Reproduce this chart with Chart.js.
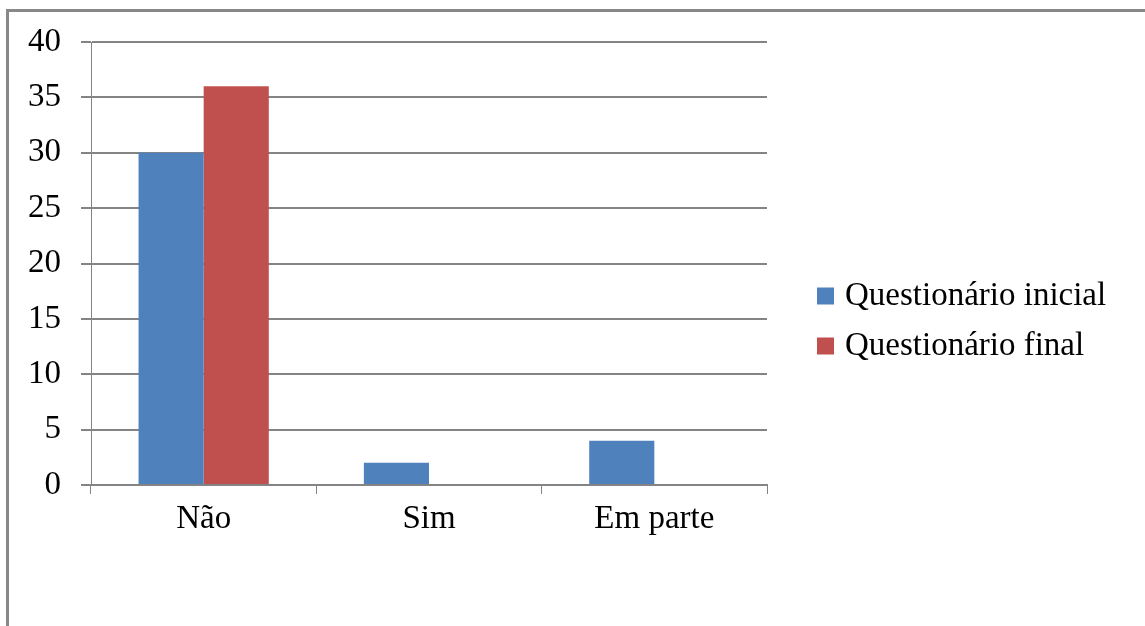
<!DOCTYPE html>
<html>
<head>
<meta charset="utf-8">
<script src="https://cdn.jsdelivr.net/npm/chart.js@4.4.1/dist/chart.umd.min.js"></script>
<style>
    html, body { margin: 0; padding: 0; background: #fff; }
    #wrap { position: relative; width: 1145px; height: 626px; }
</style>
</head>
<body>
<div id="wrap"><canvas id="myBar" width="1145" height="626"></canvas></div>
<script>
// data
const categories = ['Não', 'Sim', 'Em parte'];
const seriesNames = ['Questionário inicial', 'Questionário final'];
const inicialValues = [30, 2, 4];
const finalValues = [36, 0, 0];
const yTicks = [0, 5, 10, 15, 20, 25, 30, 35, 40];

const serif = "'Liberation Serif', 'Times New Roman', serif";
const gridGray = '#848484';

// frame round the chart (only left and top edge are visible)
const frame = {
    id: 'frame',
    beforeDraw(chart) {
        const ctx = chart.ctx;
        ctx.save();
        ctx.strokeStyle = '#888888';
        ctx.lineWidth = 3;
        ctx.beginPath();
        ctx.moveTo(7.5, chart.height);
        ctx.lineTo(7.5, 10.5);
        ctx.lineTo(chart.width, 10.5);
        ctx.stroke();
        ctx.restore();
    }
};

// legend on the right, drawn from the datasets
const sideLegend = {
    id: 'sideLegend',
    afterDraw(chart) {
        const ctx = chart.ctx;
        ctx.save();
        ctx.font = '33px ' + serif;
        ctx.textBaseline = 'middle';
        chart.data.datasets.forEach(function (ds, i) {
            const cy = 296 + i * 50;
            ctx.fillStyle = ds.backgroundColor;
            ctx.fillRect(817, cy - 8.5, 17, 17);
            ctx.fillStyle = '#000';
            ctx.fillText(ds.label, 845, cy);
        });
        ctx.restore();
    }
};

const ctx = document.getElementById('myBar').getContext('2d');
const myCharts = new Chart(ctx, {
    type: 'bar',
    data: {
        labels: categories,
        datasets: [{
            label: seriesNames[0],
            data: inicialValues,
            backgroundColor: '#4F81BD',
            borderWidth: 0
        }, {
            label: seriesNames[1],
            data: finalValues,
            backgroundColor: '#C0504D',
            borderWidth: 0
        }]
    },
    options: {
        responsive: false,
        animation: false,
        layout: {
            padding: { top: 42, right: 378, bottom: 81, left: 0 }
        },
        categoryPercentage: 0.578,
        barPercentage: 1,
        plugins: {
            legend: { display: false },
            tooltip: { enabled: false }
        },
        scales: {
            y: {
                min: 0,
                max: 40,
                afterBuildTicks: function (scale) {
                    scale.ticks = yTicks.map(function (v) { return { value: v }; });
                },
                afterFit: function (scale) {
                    scale.width = 91;
                },
                ticks: {
                    color: '#000',
                    padding: 20,
                    font: { family: serif, size: 33 }
                },
                grid: {
                    color: gridGray,
                    lineWidth: 2,
                    tickLength: 10
                },
                border: {
                    color: gridGray,
                    width: 1
                }
            },
            x: {
                afterFit: function (scale) {
                    scale.height = 60;
                },
                ticks: {
                    color: '#000',
                    padding: 6,
                    font: { family: serif, size: 33 }
                },
                grid: {
                    drawOnChartArea: false,
                    color: gridGray,
                    lineWidth: 1,
                    tickLength: 9
                },
                border: {
                    color: gridGray,
                    width: 2
                }
            }
        }
    },
    plugins: [frame, sideLegend]
});
</script>
</body>
</html>
